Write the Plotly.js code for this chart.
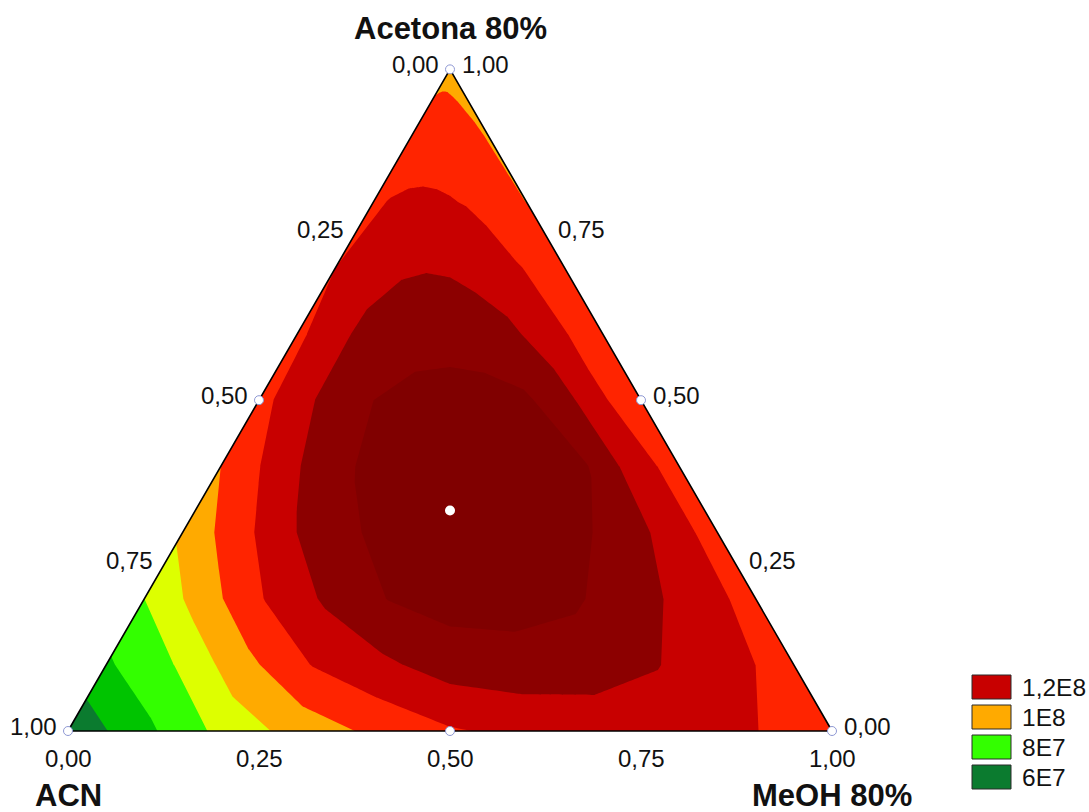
<!DOCTYPE html>
<html>
<head>
<meta charset="utf-8">
<script src="https://cdn.plot.ly/plotly-3.0.1.min.js"></script>
<style>
  html, body { margin: 0; padding: 0; background: #ffffff; }
  #chart { width: 1089px; height: 812px; }
</style>
</head>
<body>
<div id="chart"></div>
<script>
// Mixture components: top vertex, bottom-left vertex, bottom-right vertex
const componentTop = 'Acetona 80%';
const componentLeft = 'ACN';
const componentRight = 'MeOH 80%';

// Response grid, in units of 1E7.
// One row per Acetona fraction (0 at the ACN–MeOH edge, 1 at the Acetona vertex);
// each row runs from the ACN side (position 0) to the MeOH side (position 1).
const acetonaLevels = [0, 0.1, 0.2, 0.3, 0.4, 0.5, 0.6, 0.7, 0.8, 0.9, 1];
const rowPosition   = [0, 0.1, 0.2, 0.3, 0.4, 0.5, 0.6, 0.7, 0.8, 0.9, 1];
const responseE7 = [
  [5.2,  6.74, 8.27, 9.39, 10.2, 10.9, 11.25, 11.4, 11.4, 11.02, 10.5],
  [6.85, 8.02, 9.68, 11.04, 11.79, 12.45, 12.6, 12.5, 12.05, 11.36, 10.55],
  [8.0,  9.57, 11.07, 12.18, 13.04, 13.4, 13.4, 13.15, 12.46, 11.53, 10.6],
  [9.2,  10.55, 11.87, 12.84, 13.3, 13.5, 13.5, 13.3, 12.85, 11.71, 10.5],
  [10.0, 11.16, 12.29, 13.05, 13.45, 13.6, 13.6, 13.4, 13.03, 11.55, 10.5],
  [10.6, 11.65, 12.4, 13.0, 13.3, 13.4, 13.35, 13.15, 12.37, 11.08, 10.5],
  [10.75, 11.52, 12.15, 12.45, 12.6, 12.6, 12.5, 12.2, 11.6, 10.9, 10.5],
  [11.0, 11.5, 11.75, 11.9, 11.95, 11.9, 11.7, 11.45, 11.05, 10.75, 10.4],
  [10.85, 11.03, 11.1, 11.12, 11.1, 11.05, 10.95, 10.75, 10.5, 10.25, 9.98],
  [10.45, 10.55, 10.6, 10.6, 10.58, 10.5, 10.42, 10.32, 10.2, 10.08, 9.9],
  [9.7,  9.7,  9.7,  9.7,  9.7,  9.7,  9.7,  9.7,  9.7,  9.7,  9.7]
];

// Simplex-centroid design points
const designAcetona = [1, 0, 0, 0.5, 0.5, 0, 1 / 3];
const designACN     = [0, 1, 0, 0.5, 0, 0.5, 1 / 3];
const designMeOH    = [0, 0, 1, 0, 0.5, 0.5, 1 / 3];

// Axis ticks
const tickValues = [0, 0.25, 0.5, 0.75, 1];
const tickLabels = ['0,00', '0,25', '0,50', '0,75', '1,00'];

// Contour levels (1E7 units) and band colours, lowest band first
const levelStart = 6, levelEnd = 13, levelStep = 1;
const bandColors = ['#0b7b2f', '#00c400', '#33ff00', '#ddff00', '#ffaa00',
                    '#ff2400', '#c80000', '#8c0000', '#800000'];

// Legend entries: label and the upper level of the band it shows
const legendLabels = ['1,2E8', '1E8', '8E7', '6E7'];
const legendLevels = [12, 10, 8, 6];

// ---- geometry: composition -> plane (equilateral triangle, side 1) ----
const H = Math.sqrt(3) / 2;
const toX = (acetona, meoh) => meoh + acetona / 2;
const toY = (acetona) => acetona * H;

const carpetX = acetonaLevels.map(a => rowPosition.map(t => toX(a, (1 - a) * t)));
const carpetY = acetonaLevels.map(a => rowPosition.map(() => toY(a)));

const nBands = bandColors.length;
const colorscale = bandColors.map((c, k) => [k / (nBands - 1), c]);

const hiddenCarpetAxis = {
  showgrid: false, showline: false, startline: false, endline: false,
  minorgridcount: 0, showticklabels: 'none', smoothing: 0, title: { text: '' }
};

const FONT = 'Liberation Sans, Arial, sans-serif';

// Triangle outline through the three pure-component vertices
const vertexAcetona = [1, 0, 0, 1];
const vertexMeOH = [0, 0, 1, 0];

const isBlendAll = designAcetona.map((a, i) => a > 0 && designACN[i] > 0 && designMeOH[i] > 0);
const edgeIdx = designAcetona.map((_, i) => i).filter(i => !isBlendAll[i]);
const centerIdx = designAcetona.map((_, i) => i).filter(i => isBlendAll[i]);

const traces = [
  {
    type: 'carpet', carpet: 'mix',
    a: rowPosition, b: acetonaLevels,
    x: carpetX, y: carpetY,
    aaxis: hiddenCarpetAxis, baxis: hiddenCarpetAxis
  },
  {
    type: 'contourcarpet', carpet: 'mix',
    a: rowPosition, b: acetonaLevels,
    z: responseE7,
    autocontour: false,
    contours: { start: levelStart, end: levelEnd, size: levelStep, coloring: 'fill', showlines: false },
    line: { width: 0, smoothing: 0 },
    colorscale: colorscale,
    showscale: false
  },
  {
    type: 'scatter', mode: 'lines',
    x: vertexAcetona.map((a, i) => toX(a, vertexMeOH[i])),
    y: vertexAcetona.map(a => toY(a)),
    line: { color: '#000000', width: 1.6 },
    hoverinfo: 'skip'
  },
  {
    type: 'scatter', mode: 'markers',
    x: edgeIdx.map(i => toX(designAcetona[i], designMeOH[i])),
    y: edgeIdx.map(i => toY(designAcetona[i])),
    marker: { symbol: 'circle', size: 9, color: '#ffffff', line: { color: '#8f99d4', width: 1 } },
    hoverinfo: 'skip'
  },
  {
    type: 'scatter', mode: 'markers',
    x: centerIdx.map(i => toX(designAcetona[i], designMeOH[i])),
    y: centerIdx.map(i => toY(designAcetona[i])),
    marker: { symbol: 'circle', size: 10, color: '#ffffff', line: { width: 0 } },
    hoverinfo: 'skip'
  }
];

const annotations = [];
const tickFont = { family: FONT, size: 24, color: '#111111' };
const titleFont = { family: FONT, size: 31, color: '#111111' };

tickValues.forEach((v, i) => {
  // ACN ticks along the left edge
  annotations.push({
    x: toX(1 - v, 0), y: toY(1 - v), xref: 'x', yref: 'y',
    text: tickLabels[i], showarrow: false, font: tickFont,
    xanchor: 'right', yanchor: 'middle', xshift: -9, yshift: 5
  });
  // Acetona ticks along the right edge
  annotations.push({
    x: toX(v, 1 - v), y: toY(v), xref: 'x', yref: 'y',
    text: tickLabels[i], showarrow: false, font: tickFont,
    xanchor: 'left', yanchor: 'middle', xshift: 10, yshift: 5
  });
  // MeOH ticks along the bottom edge
  annotations.push({
    x: toX(0, v), y: toY(0), xref: 'x', yref: 'y',
    text: tickLabels[i], showarrow: false, font: tickFont,
    xanchor: 'center', yanchor: 'middle', yshift: -27
  });
});

annotations.push(
  { x: toX(1, 0), y: toY(1), xref: 'x', yref: 'y', text: '<b>' + componentTop + '</b>',
    showarrow: false, font: titleFont, xanchor: 'center', yanchor: 'middle', yshift: 41 },
  { x: toX(0, 0), y: toY(0), xref: 'x', yref: 'y', text: '<b>' + componentLeft + '</b>',
    showarrow: false, font: titleFont, xanchor: 'center', yanchor: 'middle', yshift: -64 },
  { x: toX(0, 1), y: toY(0), xref: 'x', yref: 'y', text: '<b>' + componentRight + '</b>',
    showarrow: false, font: titleFont, xanchor: 'center', yanchor: 'middle', yshift: -64 }
);

// Legend drawn as boxes plus labels at the lower right
const W = 1089, HT = 812;
const shapes = [];
legendLabels.forEach((lab, k) => {
  const band = Math.round((legendLevels[k] - levelStart) / levelStep);
  const top = 675 + 30 * k, bottom = top + 24;
  shapes.push({
    type: 'rect', xref: 'paper', yref: 'paper',
    x0: 972 / W, x1: 1011 / W, y0: 1 - bottom / HT, y1: 1 - top / HT,
    fillcolor: bandColors[band], line: { color: '#2a2a2a', width: 1 }
  });
  annotations.push({
    x: 1020 / W, y: 1 - (top + 12) / HT, xref: 'paper', yref: 'paper',
    text: lab, showarrow: false, font: { family: FONT, size: 24.5, color: '#111111' },
    xanchor: 'left', yanchor: 'middle'
  });
});

const px = 764; // pixels per unit side
const x0 = -68 / px, y0 = -(812 - 731) / px;

const layout = {
  width: W, height: HT,
  margin: { l: 0, r: 0, t: 0, b: 0, pad: 0 },
  paper_bgcolor: '#ffffff', plot_bgcolor: '#ffffff',
  showlegend: false, hovermode: false,
  xaxis: { range: [x0, x0 + W / px], visible: false, fixedrange: true },
  yaxis: { range: [y0, y0 + HT / px], visible: false, fixedrange: true },
  annotations: annotations,
  shapes: shapes,
  font: { family: FONT }
};

Plotly.newPlot('chart', traces, layout, { staticPlot: true, displayModeBar: false });
</script>
</body>
</html>
